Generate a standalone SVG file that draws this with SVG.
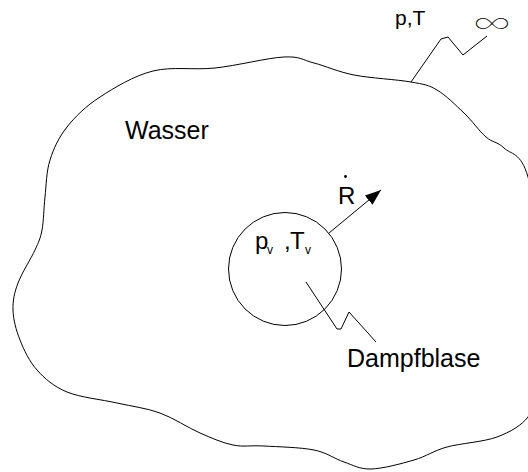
<svg xmlns="http://www.w3.org/2000/svg" width="528" height="472" viewBox="0 0 528 472">
  <style>
    .ln { fill: none; stroke: #000; stroke-width: 1; }
    .t { font-family: "Liberation Sans", Arial, sans-serif; fill: #000; }
    .inf { font-family: Inter, "DejaVu Sans", sans-serif; font-weight: 100; fill: #000; }
  </style>
  <defs>
    <marker id="ah" markerUnits="userSpaceOnUse" markerWidth="16" markerHeight="12" refX="16" refY="6" orient="auto">
      <path d="M0,0 L16,6 L0,12 z" fill="#000"/>
    </marker>
  </defs>
  <rect width="528" height="472" fill="#fff"/>

  <g id="water">
    <path class="ln" d="M153,71 C172.2,66.2 193.2,70.3 215,68 C236.8,65.7 267.5,57.8 284,57 C300.5,56.2 302.3,60 314,63 C325.7,66 337.8,71.8 354,75 C370.2,78.2 397.2,79.5 411,82 C424.8,84.5 428.2,84.8 437,90 C445.8,95.2 455.8,105.2 464,113 C472.2,120.8 479.3,131.2 486,137 C492.7,142.8 497,141.3 504,148 C511,154.7 520.7,151.7 528,177 C535.3,202.3 548,260 548,300 C548,340 534,409 528,417 C522,425 510.5,432 497,437 C483.5,442 460.8,443.2 447,447 C433.2,450.8 426.7,456.3 414,460 C401.3,463.7 382.7,468.7 371,469 C359.3,469.3 353.5,465.2 344,462 C334.5,458.8 327.3,452.7 314,450 C300.7,447.3 277.5,446.8 264,446 C250.5,445.2 243.7,447.2 233,445 C222.3,442.8 212.2,438.3 200,433 C187.8,427.7 173.8,418 160,413 C146.2,408 132.5,406.5 117,403 C101.5,399.5 80.3,397.5 67,392 C53.7,386.5 44.8,378.7 37,370 C29.2,361.3 24,350 20,340 C16,330 13.3,319.5 13,310 C12.7,300.5 14.3,293 18,283 C21.7,273 31,258.8 35,250 C39,241.2 40.3,238.8 42,230 C43.7,221.2 43.7,208.7 45,197 C46.3,185.3 46.3,171.7 50,160 C53.7,148.3 58.7,137.5 67,127 C75.3,116.5 85.7,106.3 100,97 C114.3,87.7 133.8,75.8 153,71 Z"/>
    <text class="t" x="125" y="139" font-size="25">Wasser</text>
  </g>

  <g id="ambient">
    <text class="t" x="395" y="25" font-size="21">p,T</text>
    <text class="inf" x="0" y="0" font-size="32" text-anchor="middle" transform="translate(492,34) scale(1.33,1.05)">∞</text>
  </g>

  <g id="bubble">
    <circle class="ln" cx="285" cy="269" r="56.5"/>
    <text class="t" font-size="24"><tspan x="255" y="249">p</tspan><tspan x="267" y="254" font-size="12">v</tspan><tspan x="284" y="249">,</tspan><tspan x="290" y="249">T</tspan><tspan x="305" y="254" font-size="12">v</tspan></text>
  </g>

  <g id="rate">
    <text class="t" x="338" y="204" font-size="24">R</text>
    <circle cx="345.5" cy="176.5" r="1.4" fill="#000"/>
  </g>

  <g id="label">
    <text class="t" x="347" y="367" font-size="25">Dampfblase</text>
  </g>

  <g id="connectors">
    <line class="ln" x1="329" y1="233" x2="381" y2="190" marker-end="url(#ah)"/>
    <polyline class="ln" points="411,82 441,39 448,37 463,55 487,36"/>
    <polyline class="ln" points="306,282 337,329 341,329 349,312 376,342"/>
  </g>
</svg>
